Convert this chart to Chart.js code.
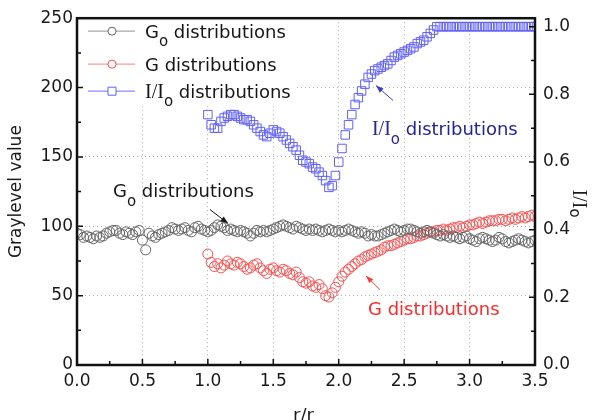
<!DOCTYPE html>
<html>
<head>
<meta charset="utf-8">
<script src="https://cdn.jsdelivr.net/npm/chart.js@4.4.1/dist/chart.umd.min.js"></script>
<style>
  html, body { margin: 0; padding: 0; background: #fff; }
  #wrap { width: 608px; height: 420px; }
</style>
</head>
<body>
<div id="wrap"><canvas id="chart" width="608" height="420"></canvas></div>
<script>
// r/r0 positions are sampled every 0.025
const rStep = 0.025;
const g0Start = 0.0;
const gStart = 1.0;
const ratioStart = 1.0;

// G0 (gray level without the object), left axis
const g0Values = [
  95, 94, 92, 93,  92, 91, 93, 92,  93, 95, 96, 97,  97, 95, 94, 96,
  95, 94, 96, 97,  90, 83, 95, 93,  92, 94, 95, 96,  97, 99, 98, 97,
  98, 99, 97, 96,  99, 100, 98, 97,  96, 97, 99, 101,  100, 99, 97, 98,
  97, 96, 97, 96,  95, 93, 95, 97,  96, 97, 96, 97,  98, 99, 100, 101,
  100, 99, 98, 100,  99, 98, 97, 98,  97, 98, 97, 96,  97, 98, 97, 96,
  97, 96, 97, 98,  97, 96, 95, 96,  95, 93, 94, 93,  93, 94, 95, 96,
  97, 98, 97, 96,  97, 98, 98, 97,  96, 95, 96, 97,  96, 95, 94, 93,
  94, 93, 92, 93,  92, 91, 92, 93,  91, 90, 89, 91,  92, 91, 90, 89,
  90, 92, 91, 89,  88, 89, 90, 91,  90, 89, 88, 89,  90
];

// G (gray level with the object), left axis
const gValues = [
  80, 74, 71, 73,  70, 72, 75, 73,  72, 74, 73, 71,  69, 70, 72, 73,
  70, 68, 66, 69,  70, 68, 67, 69,  68, 66, 65, 67,  63, 60, 59, 60,
  57, 56, 58, 55,  50, 49, 52, 56,  60, 64, 67, 69,  71, 73, 75, 76,
  78, 79, 80, 81,  82, 83, 85, 86,  86, 87, 88, 89,  90, 91, 91, 92,
  93, 93, 94, 95,  96, 96, 97, 97,  98, 97, 98, 99,  99, 100, 99, 100,
  101, 101, 102, 103,  102, 103, 104, 104,  104, 105, 105, 104,
  105, 106, 105, 106,  107, 106, 107, 108,  107
];

// I/I0, right axis
const ratioValues = [
  0.74, 0.71, 0.70, 0.70,  0.72, 0.73, 0.735, 0.74,  0.74, 0.735, 0.73, 0.725,
  0.725, 0.72, 0.71, 0.70,  0.69, 0.68, 0.675, 0.685,  0.695, 0.69, 0.685, 0.675,
  0.665, 0.655, 0.645, 0.635,  0.62, 0.605, 0.60, 0.595,  0.585, 0.58, 0.57, 0.56,
  0.545, 0.525, 0.53, 0.56,  0.60, 0.64, 0.68, 0.71,  0.74, 0.77, 0.79, 0.81,
  0.83, 0.85, 0.86, 0.87,  0.875, 0.88, 0.885, 0.89,  0.90, 0.91, 0.915, 0.92,
  0.925, 0.93, 0.935, 0.94,  0.95, 0.955, 0.96, 0.97,  0.98, 0.99, 1.0, 1.0,
  1.0, 1.0, 1.0, 1.0,  1.0, 1.0, 1.0, 1.0,  1.0, 1.0, 1.0, 1.0,  1.0, 1.0, 1.0, 1.0,
  1.0, 1.0, 1.0, 1.0,  1.0, 1.0, 1.0, 1.0,  1.0, 1.0, 1.0, 1.0,  1.0
];

const rTicks = [0, 0.5, 1.0, 1.5, 2.0, 2.5, 3.0, 3.5];
const grayTicks = [0, 50, 100, 150, 200, 250];
const ratioTicks = [0, 0.2, 0.4, 0.6, 0.8, 1.0];

const g0Label = [{t: 'G'}, {t: 'o', sub: true}, {t: ' distributions'}];
const gLabel = [{t: 'G distributions'}];
const ratioLabel = [{t: 'I/I', serif: true}, {t: 'o', sub: true}, {t: ' distributions'}];

function toPoints(start, values) {
  return values.map((v, i) => ({x: +(start + i * rStep).toFixed(3), y: v}));
}

function drawRich(ctx, parts, x, y, color, subDy) {
  ctx.fillStyle = color;
  ctx.textAlign = 'left';
  ctx.textBaseline = 'alphabetic';
  let cx = x;
  for (const p of parts) {
    if (p.sub) ctx.font = '15px "DejaVu Sans"';
    else if (p.serif) ctx.font = '20px "Liberation Serif"';
    else ctx.font = '18px "DejaVu Sans"';
    ctx.fillText(p.t, cx, y + (p.sub ? subDy : 0));
    cx += ctx.measureText(p.t).width;
  }
}

function arrow(ctx, x1, y1, x2, y2, color) {
  const ang = Math.atan2(y2 - y1, x2 - x1);
  ctx.strokeStyle = color;
  ctx.fillStyle = color;
  ctx.lineWidth = 1;
  ctx.beginPath();
  ctx.moveTo(x1, y1);
  ctx.lineTo(x2, y2);
  ctx.stroke();
  ctx.beginPath();
  ctx.moveTo(x2, y2);
  ctx.lineTo(x2 - 8 * Math.cos(ang - 0.35), y2 - 8 * Math.sin(ang - 0.35));
  ctx.lineTo(x2 - 8 * Math.cos(ang + 0.35), y2 - 8 * Math.sin(ang + 0.35));
  ctx.closePath();
  ctx.fill();
}

// annotations in data units (r, gray level)
const notes = [
  {parts: g0Label, r: 0.275, v: 121.4, color: '#161616', from: [1.016, 112.1], to: [1.154, 102.1], arrowColor: '#161616'},
  {parts: ratioLabel, r: 2.254, v: 165.7, color: '#24249c', from: [2.415, 190.7], to: [2.285, 201.4], arrowColor: '#3a3ac8'},
  {parts: gLabel, r: 2.224, v: 35.7, color: '#ff2a2a', from: [2.315, 54.3], to: [2.208, 64.3], arrowColor: '#ff3a3a'}
];

const decor = {
  id: 'decor',
  afterDraw(chart) {
    const {ctx, chartArea: a, scales} = chart;
    const sx = scales.x, sy = scales.y, sy1 = scales.y1;
    ctx.save();

    // legend
    ctx.fillStyle = '#fff';
    ctx.fillRect(a.left + 2, a.top + 2, 218, 86);
    const rows = [20, 53, 80];
    chart.data.datasets.forEach((ds, i) => {
      const by = a.top + rows[i];
      const my = by - 7;
      ctx.strokeStyle = ds.legendLine;
      ctx.lineWidth = 1.2;
      ctx.beginPath();
      ctx.moveTo(a.left + 11, my);
      ctx.lineTo(a.left + 58, my);
      ctx.stroke();
      ctx.fillStyle = '#fff';
      ctx.strokeStyle = ds.pointBorderColor;
      ctx.lineWidth = 1;
      ctx.beginPath();
      if (ds.pointStyle === 'rect') ctx.rect(a.left + 31, my - 4, 8, 8);
      else ctx.arc(a.left + 35, my, 4, 0, Math.PI * 2);
      ctx.fill();
      ctx.stroke();
      drawRich(ctx, ds.rich, a.left + 68, by, '#161616', 8);
    });

    // annotations
    notes.forEach(n => {
      drawRich(ctx, n.parts, sx.getPixelForValue(n.r), sy.getPixelForValue(n.v), n.color, 9);
      arrow(ctx, sx.getPixelForValue(n.from[0]), sy.getPixelForValue(n.from[1]),
        sx.getPixelForValue(n.to[0]), sy.getPixelForValue(n.to[1]), n.arrowColor);
    });

    // inward tick marks
    ctx.strokeStyle = '#111';
    ctx.lineWidth = 1.5;
    ctx.beginPath();
    for (let i = 0; i < rTicks.length; i++) {
      const px = sx.getPixelForValue(rTicks[i]);
      ctx.moveTo(px, a.bottom); ctx.lineTo(px, a.bottom - 6);
      if (i < rTicks.length - 1) {
        const mx = sx.getPixelForValue((rTicks[i] + rTicks[i + 1]) / 2);
        ctx.moveTo(mx, a.bottom); ctx.lineTo(mx, a.bottom - 4);
      }
    }
    for (let i = 0; i < grayTicks.length; i++) {
      const py = sy.getPixelForValue(grayTicks[i]);
      ctx.moveTo(a.left, py); ctx.lineTo(a.left + 6, py);
      if (i < grayTicks.length - 1) {
        const my = sy.getPixelForValue((grayTicks[i] + grayTicks[i + 1]) / 2);
        ctx.moveTo(a.left, my); ctx.lineTo(a.left + 4, my);
      }
    }
    for (let i = 0; i < ratioTicks.length; i++) {
      const py = sy1.getPixelForValue(ratioTicks[i]);
      ctx.moveTo(a.right, py); ctx.lineTo(a.right - 6, py);
      if (i < ratioTicks.length - 1) {
        const my = sy1.getPixelForValue((ratioTicks[i] + ratioTicks[i + 1]) / 2);
        ctx.moveTo(a.right, my); ctx.lineTo(a.right - 4, my);
      }
    }
    ctx.stroke();

    // frame
    ctx.strokeStyle = '#111';
    ctx.lineWidth = 2.5;
    ctx.strokeRect(a.left, a.top, a.right - a.left, a.bottom - a.top);

    // right axis title (reads top to bottom)
    ctx.save();
    ctx.translate(a.right + 38, (a.top + a.bottom) / 2 - 2);
    ctx.rotate(Math.PI / 2);
    drawRich(ctx, [{t: 'I/I', serif: true}, {t: 'o', sub: true}], 0, 0, '#1a1a1a', 3);
    ctx.restore();

    // bottom axis title, partly below the picture edge
    drawRich(ctx, [{t: 'r/r'}, {t: 'o', sub: true}], (a.left + a.right) / 2 - 13, 421, '#1a1a1a', 8);

    ctx.restore();
  }
};

const tickFont = {family: 'DejaVu Sans', size: 17};

new Chart(document.getElementById('chart'), {
  type: 'line',
  data: {
    datasets: [
      {
        label: 'G0 distributions', rich: g0Label, legendLine: '#a8a8a8',
        data: toPoints(g0Start, g0Values), yAxisID: 'y', showLine: false,
        pointStyle: 'circle', pointRadius: 5, pointBorderWidth: 1,
        pointBorderColor: '#666666', pointBackgroundColor: 'rgba(255,255,255,0)'
      },
      {
        label: 'G distributions', rich: gLabel, legendLine: '#ff9a9a',
        data: toPoints(gStart, gValues), yAxisID: 'y', showLine: false,
        pointStyle: 'circle', pointRadius: 5, pointBorderWidth: 1,
        pointBorderColor: '#ff5050', pointBackgroundColor: 'rgba(255,255,255,0)'
      },
      {
        label: 'I/I0 distributions', rich: ratioLabel, legendLine: '#8a8aff',
        data: toPoints(ratioStart, ratioValues), yAxisID: 'y1', showLine: false,
        pointStyle: 'rect', pointRadius: 6, pointBorderWidth: 1,
        pointBorderColor: '#6060ff', pointBackgroundColor: 'rgba(255,255,255,0)'
      }
    ]
  },
  options: {
    responsive: false,
    animation: false,
    events: [],
    layout: {padding: {top: 15, left: 0, right: 0, bottom: 0}},
    plugins: {legend: {display: false}, tooltip: {enabled: false}},
    scales: {
      x: {
        type: 'linear', min: 0, max: 3.5,
        afterBuildTicks: s => { s.ticks = rTicks.map(v => ({value: v})); },
        afterFit: s => { s.height = 55; },
        ticks: {padding: 6, color: '#1a1a1a', font: tickFont, maxRotation: 0, callback: v => v.toFixed(1)},
        grid: {color: '#b0b0b0', lineWidth: 1, drawTicks: false},
        border: {display: false, dash: [1, 3]}
      },
      y: {
        position: 'left', min: 0, max: 250,
        afterBuildTicks: s => { s.ticks = grayTicks.map(v => ({value: v})); },
        afterFit: s => { s.width = 77; },
        ticks: {padding: 4, color: '#1a1a1a', font: tickFont},
        grid: {color: '#b0b0b0', lineWidth: 1, drawTicks: false},
        border: {display: false, dash: [1, 3]},
        title: {display: true, text: 'Graylevel value', color: '#1a1a1a', font: tickFont, padding: {top: 6, bottom: 0}}
      },
      y1: {
        position: 'right', min: 0, max: 1.025,
        afterBuildTicks: s => { s.ticks = ratioTicks.map(v => ({value: v})); },
        afterFit: s => { s.width = 73; },
        ticks: {padding: 8, color: '#1a1a1a', font: tickFont, callback: v => v.toFixed(1)},
        grid: {display: false, drawTicks: false},
        border: {display: false}
      }
    }
  },
  plugins: [decor]
});
</script>
</body>
</html>
